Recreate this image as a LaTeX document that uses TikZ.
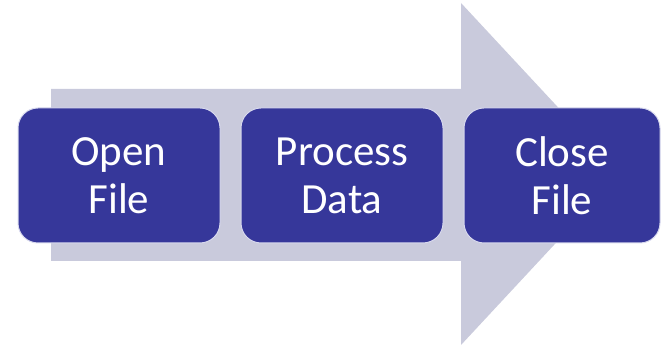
\documentclass[tikz,border=0pt]{standalone}
\usepackage{fontspec}
\setmainfont{Carlito}
\definecolor{arrowfill}{HTML}{C9CADC}
\definecolor{boxfill}{HTML}{36379A}
\definecolor{boxedge}{HTML}{D8D9EE}
\begin{document}
\begin{tikzpicture}[x=1pt,y=1pt,
  stepbox/.style={draw=boxedge, line width=1pt, fill=boxfill, rounded corners=20pt,
    text=white, align=center, inner sep=0pt,
    font=\fontsize{43}{48}\selectfont}]
\useasboundingbox (0,0) rectangle (661,347);
\fill[arrowfill] (51,86) -- (51,258) -- (461,258) -- (461,344) -- (620,173) -- (461,2) -- (461,86) -- cycle;
\node[stepbox, minimum width=202pt, minimum height=135pt] (open) at (119,171.5) {Open\\File};
\node[stepbox, minimum width=202pt, minimum height=135pt] (proc) at (342,171.5) {Process\\Data};
\node[stepbox, minimum width=196pt, minimum height=135pt] (close) at (562,171.5) {Close\\File};
\end{tikzpicture}
\end{document}
